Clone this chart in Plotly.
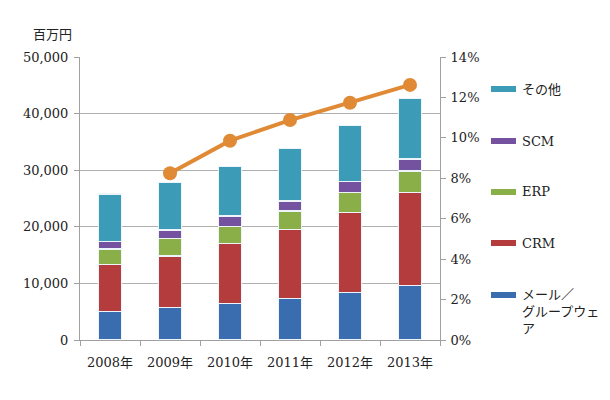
import plotly.graph_objects as go

years = ["2008年", "2009年", "2010年", "2011年", "2012年", "2013年"]
mail_groupware = [5000, 5780, 6480, 7370, 8430, 9590]
crm = [8370, 9060, 10600, 12180, 14130, 16500]
erp = [2710, 3130, 2940, 3240, 3460, 3770]
scm = [1290, 1460, 1890, 1810, 1950, 2120]
other = [8430, 8370, 8710, 9260, 9890, 10720]
growth = [None, 0.0825, 0.0986, 0.1088, 0.1174, 0.1262]

series_names = ["メール／グループウェア", "CRM", "ERP", "SCM", "その他"]
legend_labels = ["メール／<br>グループウェ<br>ア", "CRM", "ERP", "SCM", "その他"]
series_values = [mail_groupware, crm, erp, scm, other]
colors = ["#3A6CB0", "#B43C3C", "#8AAE48", "#7452A0", "#3C9CB8"]
line_color = "#E08A36"

OFF = 8  # page body margin
W, H = 610, 400
# target plot area in page pixels: x 80..440, y 57..340
L, T = 80 - OFF, 57 - OFF
pw, ph = 360, 283
R = W - L - pw
B = H - T - ph

def px_x(x):
    return (x - OFF - L) / pw

def px_y(y):
    return (T + ph - (y - OFF)) / ph

fig = go.Figure()
for name, vals, col in zip(series_names, series_values, colors):
    fig.add_trace(go.Bar(
        x=years, y=vals, name=name,
        marker=dict(color=col, line=dict(color="#EEF5FA", width=1.5)),
        width=0.38, showlegend=False,
    ))

fig.add_trace(go.Scatter(
    x=years, y=growth, yaxis="y2", mode="lines+markers",
    line=dict(color=line_color, width=4),
    marker=dict(color=line_color, size=14),
    showlegend=False, connectgaps=False,
))

tick_font = dict(family="DejaVu Serif, Noto Sans CJK JP", size=13, color="#222")

fig.update_layout(
    width=W, height=H,
    margin=dict(l=L, r=R, t=T, b=B),
    paper_bgcolor="white", plot_bgcolor="white",
    barmode="stack",
    font=tick_font,
    xaxis=dict(
        showline=True, linecolor="#A0A0A0", linewidth=1,
        ticks="outside", tickson="boundaries", ticklen=5, tickcolor="#A0A0A0",
        tickfont=tick_font, showgrid=False, ticklabelstandoff=10,
    ),
    yaxis=dict(
        range=[0, 50000], dtick=10000, tickformat=",d",
        showline=True, linecolor="#A0A0A0", linewidth=1,
        ticks="outside", ticklen=5, tickcolor="#A0A0A0",
        gridcolor="#B0B0B0", gridwidth=1, tickfont=tick_font,
        zeroline=False, ticklabelstandoff=3,
    ),
    yaxis2=dict(
        range=[0, 0.14], dtick=0.02, tickformat=".0%",
        overlaying="y", side="right",
        showline=True, linecolor="#A0A0A0", linewidth=1,
        ticks="outside", ticklen=5, tickcolor="#A0A0A0",
        showgrid=False, zeroline=False, tickfont=tick_font,
        ticklabelstandoff=2,
    ),
)

annotations = [dict(
    x=px_x(52), y=px_y(33), xref="paper", yref="paper",
    xanchor="center", yanchor="middle",
    text="百万円", showarrow=False,
    font=dict(family="Noto Sans CJK JP", size=13, color="#222"),
)]
shapes = []
legend_y = {"その他": 89, "SCM": 141, "ERP": 192, "CRM": 243, "メール／グループウェア": 295}
for name, lab, col in zip(series_names, legend_labels, colors):
    yc = legend_y[name]
    shapes.append(dict(
        type="rect", xref="paper", yref="paper",
        x0=px_x(491), x1=px_x(516), y0=px_y(yc + 3), y1=px_y(yc - 3),
        fillcolor=col, line=dict(width=0),
    ))
    if "<br>" in lab:
        annotations.append(dict(
            x=px_x(520), y=px_y(yc - 10), xref="paper", yref="paper",
            xanchor="left", yanchor="top", align="left",
            text=lab, showarrow=False,
            font=dict(family="DejaVu Serif, Noto Sans CJK JP", size=13, color="#222"),
        ))
    else:
        annotations.append(dict(
            x=px_x(520), y=px_y(yc), xref="paper", yref="paper",
            xanchor="left", yanchor="middle",
            text=lab, showarrow=False,
            font=dict(family="DejaVu Serif, Noto Sans CJK JP", size=13, color="#222"),
        ))

fig.update_layout(annotations=annotations, shapes=shapes)
fig.write_html("out.html")
